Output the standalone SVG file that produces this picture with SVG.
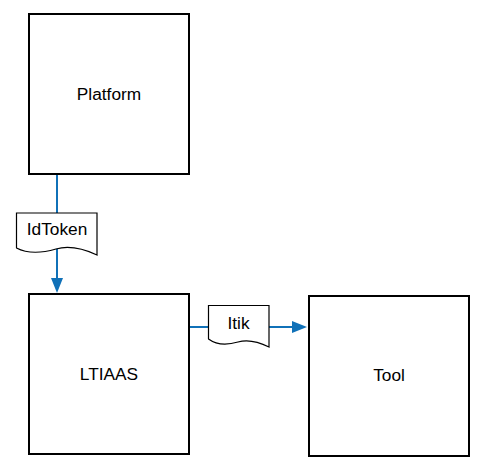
<svg xmlns="http://www.w3.org/2000/svg" width="486" height="468" viewBox="0 0 486 468">
<style>
.box{fill:#fff;stroke:#000;stroke-width:2}
.doc{fill:#fff;stroke:#000;stroke-width:1.2}
.lbl{font-family:"Liberation Sans",Arial,sans-serif;font-size:17.3px;fill:#000;text-anchor:middle}
.ln{stroke:#1071b8;stroke-width:2;fill:none}
.ah{fill:#1071b8}
</style>
<rect width="486" height="468" fill="#fff"/>
<g id="connectors">
<path class="ln" d="M57,175 V278"/>
<polygon class="ah" points="51,278 63,278 57,293"/>
<path class="ln" d="M189,327 H292"/>
<polygon class="ah" points="292,321 292,333 307,327"/>
</g>
<g id="platform"><rect class="box" x="29" y="14" width="160" height="160"/><text class="lbl" x="109" y="100">Platform</text></g>
<g id="ltiaas"><rect class="box" x="29" y="294" width="160" height="160"/><text class="lbl" x="109" y="379.5">LTIAAS</text></g>
<g id="tool"><rect class="box" x="309" y="296" width="160" height="160"/><text class="lbl" x="389" y="381">Tool</text></g>
<g id="idtoken"><path class="doc" d="M16.5,213 H97 V255 C84,249 70,245 56,249 C42,253 28,254 16.5,248 Z"/><text class="lbl" x="57" y="235">IdToken</text></g>
<g id="itik"><path class="doc" d="M208.5,305.5 H269 V347 C259,342 248,339 238,342 C228,345 218,346 208.5,339 Z"/><text class="lbl" x="238.5" y="328.5">Itik</text></g>
</svg>
